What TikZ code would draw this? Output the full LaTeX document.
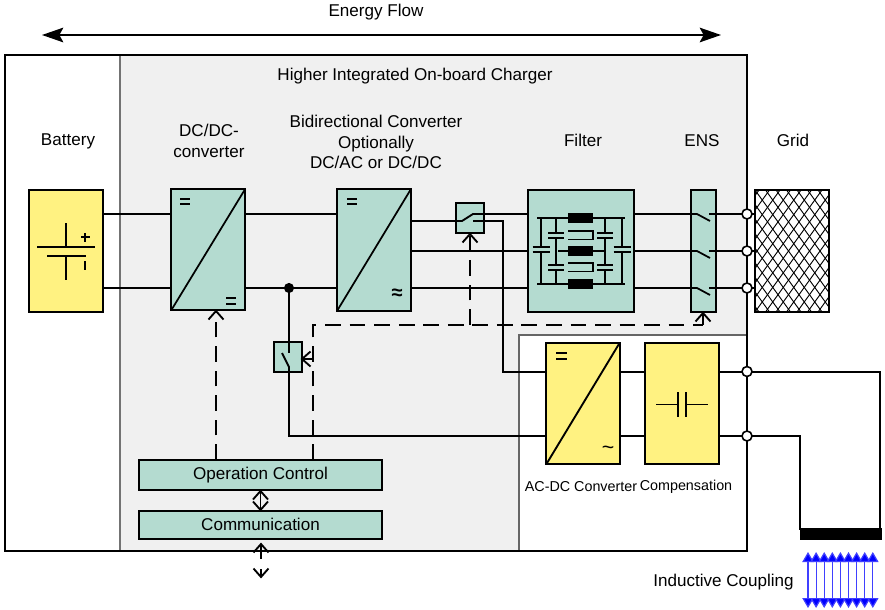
\documentclass[tikz,border=0pt]{standalone}
\usepackage{fontspec}
\setmainfont{Liberation Sans}
\usetikzlibrary{arrows.meta}
\definecolor{teal1}{HTML}{B4DBD0}
\definecolor{yel1}{HTML}{FFF281}
\definecolor{gray1}{HTML}{F0F0F0}
\tikzset{
 x=0.75pt,y=-0.75pt,
 wire/.style={line width=1.5pt,black},
 tealbox/.style={draw=black,line width=1.5pt,fill=teal1,inner sep=0pt,outer sep=0pt,rectangle},
 yelbox/.style={draw=black,line width=1.5pt,fill=yel1,inner sep=0pt,outer sep=0pt,rectangle},
 lbl/.style={font=\fontsize{12.8}{15.4}\selectfont,align=center,inner sep=0pt},
 ctl/.style={line width=1.4pt,black,dash pattern=on 11.8pt off 6.6pt},
 barbline/.style={line width=1.4pt,black},
 barbtip/.style={line width=1.4pt,black,line join=miter},
 terminal/.style={circle,draw=black,line width=1.2pt,fill=white,minimum size=7.5pt,inner sep=0pt,outer sep=0pt},
 blk/.style={fill=black,draw=none,rectangle,inner sep=0pt,outer sep=0pt},
 bluearrow/.style={line width=0.9pt,blue!75,{Triangle[length=7.5pt,width=8.5pt,fill=blue]}-{Triangle[length=7.5pt,width=8.5pt,fill=blue]}},
}
\newcommand{\tipup}[2]{\draw[barbtip] ({#1-7.5},{#2+8.5}) -- (#1,#2) -- ({#1+7.5},{#2+8.5});}
\newcommand{\tipdown}[2]{\draw[barbtip] ({#1-7.5},{#2-8.5}) -- (#1,#2) -- ({#1+7.5},{#2-8.5});}
\newcommand{\tipleft}[2]{\draw[barbtip] ({#1+8.5},{#2-7.5}) -- (#1,#2) -- ({#1+8.5},{#2+7.5});}
\begin{document}
\begin{tikzpicture}
\useasboundingbox (0,0) rectangle (885,610);
% frames
\fill[gray1] (120,55) rectangle (747,551);
\fill[white] (519,335) rectangle (747,551);
\draw[line width=0.8pt,black!60] (519,551) -- (519,335) -- (747,335);
\draw[line width=1.2pt,black!55] (120,55) -- (120,551);
\draw[line width=1.6pt,black] (5,55) rectangle (747,551);
% energy flow
\node[lbl] (ef) at (376,12) {Energy Flow};
\coordinate (efl) at (42,35); \coordinate (efr) at (721,35);
\draw[line width=1.3pt,{Stealth[length=16pt,width=11pt,inset=3pt]}-{Stealth[length=16pt,width=11pt,inset=3pt]}] (efl) -- (efr);
% labels
\node[lbl] (title) at (415,76) {Higher Integrated On-board Charger};
\node[lbl] (lbat) at (68,141) {Battery};
\node[lbl] (ldc) at (209,141) {DC/DC-\\converter};
\node[lbl] (lbi) at (376,142) {Bidirectional Converter\\Optionally\\DC/AC or DC/DC};
\node[lbl] (lfi) at (583,140.5) {Filter};
\node[lbl] (lens) at (702,140.5) {ENS};
\node[lbl] (lgr) at (793,140.5) {Grid};
% wires behind
\coordinate (j1) at (289,288);
\draw[wire] (103,214) -- (171,214);
\draw[wire] (103,288) -- (171,288);
\draw[wire] (245,214) -- (337,214);
\draw[wire] (245,288) -- (337,288);
\draw[wire] (411,251) -- (528,251);
\draw[wire] (411,288) -- (528,288);
\draw[wire] (473,221) -- (503,221) -- (503,372) -- (547,372);
\draw[wire] (289,288) -- (289,354);
\draw[wire] (289,374) -- (289,436) -- (547,436);
\fill (j1) circle (3.8pt);
% battery
\node[yelbox,minimum width=55.5pt,minimum height=91.5pt] (bat) at (66,251) {};
\draw[line width=1.3pt] (37,247) -- (95,247) (66,223) -- (66,247);
\draw[line width=1.3pt] (47,256) -- (86,256) (66,256) -- (66,280);
\draw[line width=1.5pt] (81,237) -- (90,237) (85,233) -- (85,242) (85,261) -- (85,270);
% DC/DC
\node[tealbox,minimum width=55.5pt,minimum height=91pt] (dc) at (208.3,249.5) {};
\draw[line width=1.3pt] (dc.south west) -- (dc.north east);
\draw[line width=1.3pt] (180,199) -- (190,199) (180,204) -- (190,204);
\draw[line width=1.3pt] (226,298) -- (236,298) (226,304) -- (236,304);
% bidir
\node[tealbox,minimum width=55.5pt,minimum height=91.5pt] (bi) at (374,250) {};
\draw[line width=1.3pt] (bi.south west) -- (bi.north east);
\draw[line width=1.3pt] (347,199) -- (357,199) (347,204) -- (357,204);
\node[inner sep=0pt,font=\fontsize{15}{15}\bfseries\selectfont] (bisym) at (397,294) {≈};
% switch upper
\node[tealbox,minimum width=21pt,minimum height=23pt] (sw1) at (470,218) {};
\draw[line width=1.4pt] (411,221) -- (462,221) -- (473,214) -- (528,214);
\draw[line width=1.3pt] (473,221) -- (503,221);
% switch lower
\node[tealbox,minimum width=21pt,minimum height=23pt] (sw2) at (288,357) {};
\draw[line width=1.4pt] (289,340) -- (289,353);
\draw[line width=1.4pt] (282,353) -- (289,367) -- (289,374);
% filter
\node[tealbox,minimum width=79pt,minimum height=91.5pt] (fil) at (581,251) {};
\draw[line width=1.1pt] (537,218) -- (625,218) (537,284) -- (625,284);
\draw[line width=1.1pt] (558,251) -- (604,251);
\foreach \y/\n in {218/a,251/b,284/c}{\node[blk,minimum width=19pt,minimum height=8pt] (l\n) at (580.5,\y) {};}
\foreach \x in {556,605}{
 \draw[line width=1.1pt] (\x,218) -- (\x,233) (\x-8,233) -- (\x+8,233) (\x-8,238) -- (\x+8,238) (\x,238) -- (\x,251);
 \draw[line width=1.1pt] (\x,251) -- (\x,265) (\x-8,265) -- (\x+8,265) (\x-8,270) -- (\x+8,270) (\x,270) -- (\x,284);
}
\foreach \x in {541,622}{
 \draw[line width=1.1pt] (\x,218) -- (\x,247) (\x-8.5,247) -- (\x+8.5,247) (\x-8.5,252) -- (\x+8.5,252) (\x,252) -- (\x,284);
}
\foreach \y in {231,263}{
 \draw[line width=1.1pt] (568,\y) -- (593,\y) -- (593,\y+8.5) -- (568,\y+8.5);
}
% ENS
\draw[wire] (634,214) -- (691,214);
\draw[wire] (634,251) -- (691,251);
\draw[wire] (634,288) -- (691,288);
\node[tealbox,minimum width=18.75pt,minimum height=91.5pt] (ens) at (703.5,251) {};
\foreach \y/\n in {214/a,251/b,288/c}{
 \draw[line width=1.3pt] (685,\y) -- (697,\y) -- (710,\y+7);
 \draw[line width=1.3pt] (709,\y) -- (747,\y);
}
% grid
\node[rectangle,minimum width=55.5pt,minimum height=91.5pt,inner sep=0pt,outer sep=0pt,fill=white] (grid) at (792,251) {};
\begin{scope}
\clip (755,190) rectangle (829,312);
\foreach \i in {-14,...,16}{
 \draw[line width=0.7pt] ({755+\i*10.5},190) -- ({755+\i*10.5+88},312);
 \draw[line width=0.7pt] ({755+\i*10.5},312) -- ({755+\i*10.5+88},190);
}
\end{scope}
\draw[line width=1.5pt] (grid.south west) rectangle (grid.north east);
\foreach \y/\n in {214/a,251/b,288/c}{
 \draw[line width=1.3pt] (747,\y) -- (755,\y);
 \node[terminal] (t\n) at (747,\y) {};
}
% AC-DC
\draw[wire] (547,371.5) -- (880,371.5) -- (880,530);
\draw[wire] (547,436) -- (800,436) -- (800,530);
\node[yelbox,minimum width=55pt,minimum height=91pt] (ac) at (583,403.5) {};
\draw[line width=1.4pt] (ac.south west) -- (ac.north east);
\draw[line width=1.3pt] (556,353) -- (567,353) (556,359) -- (567,359);
\node[inner sep=0pt,font=\fontsize{16}{16}\selectfont] (acs) at (608,450) {\char"7E};
% compensation
\node[yelbox,minimum width=55pt,minimum height=91pt] (co) at (682,403.5) {};
\draw[line width=1.3pt] (656,404.5) -- (678,404.5) (678,392) -- (678,417) (686,392) -- (686,417) (686,404.5) -- (708,404.5);
\node[terminal] (t1) at (747,371.5) {};
\node[terminal] (t2) at (747,436) {};
\node[lbl,font=\fontsize{10.75}{12}\selectfont] (lac) at (581,486.5) {AC-DC Converter};
\node[lbl,font=\fontsize{10.75}{12}\selectfont] (lco) at (686,487) {Compensation};
% coil
\node[blk,minimum width=61.5pt,minimum height=8.5pt] (coil) at (840.5,534) {};
\foreach \i in {0,...,8}{
 \coordinate (ba\i) at ({808+\i*8.1},552);
 \coordinate (bb\i) at ({808+\i*8.1},608);
 \draw[bluearrow] (ba\i) -- (bb\i);
}
\node[lbl] (lic) at (723.5,582.5) {Inductive Coupling};
% control
\node[tealbox,minimum width=182pt,minimum height=22.5pt,font=\fontsize{12.8}{14}\selectfont] (op) at (260.5,475) {\raisebox{-1pt}{Operation Control}};
\node[tealbox,minimum width=182pt,minimum height=21pt,font=\fontsize{12.8}{14}\selectfont] (com) at (260.5,525) {\raisebox{0.5pt}{Communication}};
\draw[barbline] (op.south) -- (com.north);
\tipup{260.5}{491} \tipdown{260.5}{510}
\coordinate (cb) at (261,577);
\draw[barbline] (261,544) -- (261,559);
\tipup{261}{544}
\draw[barbline] (cb) -- (261,569);
\tipdown{261}{577}
% dashed
\draw[ctl] (216,460) -- (216,311);
\tipup{216}{311}
\draw[ctl] (313,460) -- (313,325) -- (703,325);
\draw[barbline] (302,359) -- (313,359);
\tipleft{302}{359}
\draw[ctl] (470,325) -- (470,234);
\tipup{470}{234}
\draw[barbline] (703,313) -- (703,325);
\tipup{703}{313}
\end{tikzpicture}
\end{document}
